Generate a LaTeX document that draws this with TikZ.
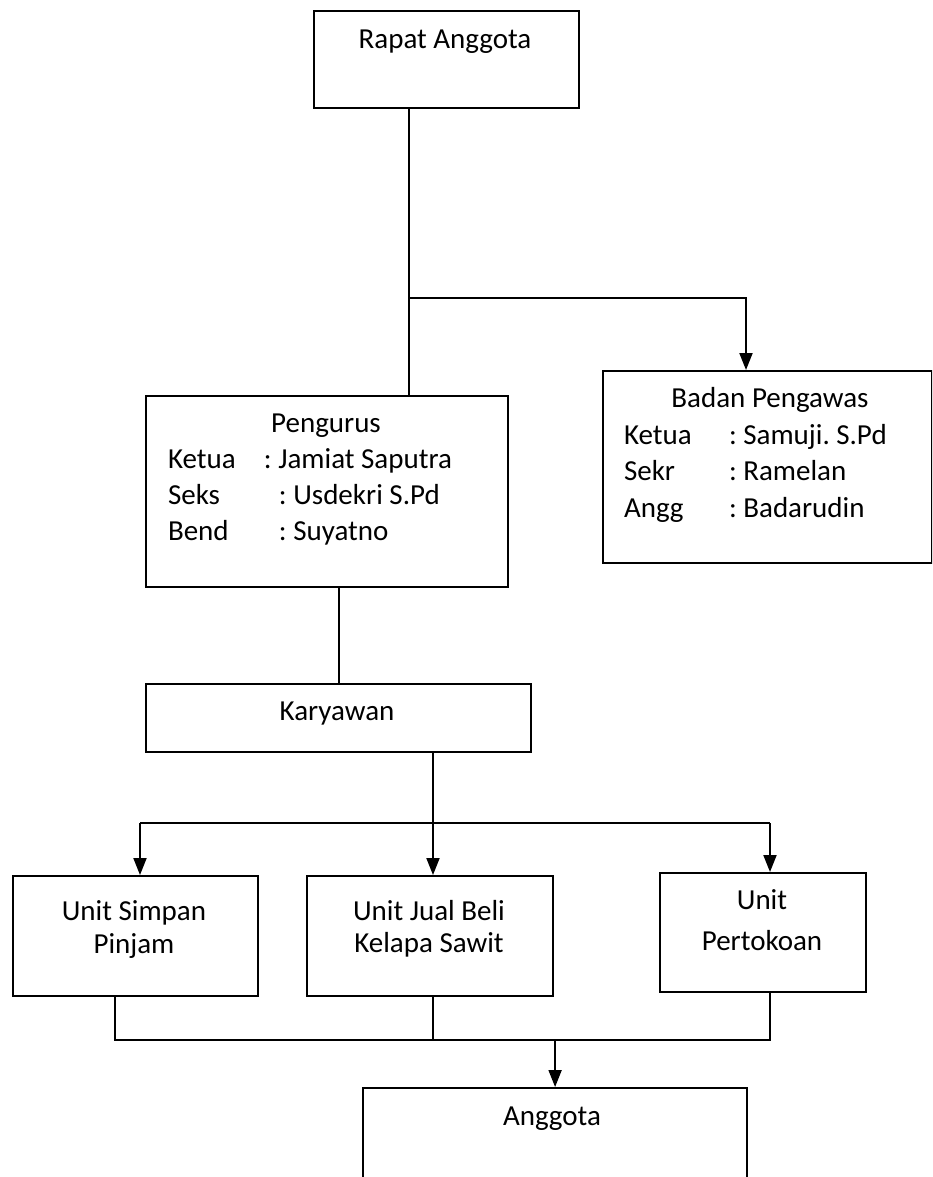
\documentclass[tikz,border=0pt]{standalone}
\usepackage{fontspec}
\setmainfont{Carlito}
\usetikzlibrary{arrows.meta}
\frenchspacing

\newcommand{\boxlines}[1]{\begin{tabular}[t]{@{}c@{}}#1\end{tabular}}
\newcommand{\boxlinesl}[1]{\begin{tabular}[t]{@{}l@{}}#1\end{tabular}}

\begin{document}
\begin{tikzpicture}[x=0.5pt, y=-0.5pt, line width=1pt,
	box/.style = {draw, line width=1.1pt, inner sep=0pt, anchor=north west},
	txt/.style = {inner sep=0pt, anchor=base, font=\fontsize{14.5}{18}\selectfont},
	arr/.style = {-{Triangle[length=8.5pt, width=6.5pt]}}]
	\clip (0,0) rectangle (932,1177);
	\node[box, minimum width=132.5pt, minimum height=48.5pt] (rapat) at (313,10) {};
	\node[box, minimum width=181pt, minimum height=95.5pt] (pengurus) at (145,395) {};
	\node[box, minimum width=164.5pt, minimum height=96pt] (badan) at (602,370) {};
	\node[box, minimum width=192.5pt, minimum height=34pt] (karyawan) at (145,683) {};
	\node[box, minimum width=122.5pt, minimum height=60pt] (simpan) at (12,875) {};
	\node[box, minimum width=123pt, minimum height=60pt] (jual) at (306,875) {};
	\node[box, minimum width=103pt, minimum height=59.5pt] (toko) at (659,872) {};
	\node[box, minimum width=192pt, minimum height=60pt] (anggota) at (362,1087) {};

	\node[txt] (rapat-t) at (445,49) {Rapat Anggota};
	\node[txt] (pengurus-t) at (326,432) {Pengurus};
	\node[txt, anchor=base west] (pengurus-l) at (167,468) {\boxlinesl{%
		\makebox[48pt][l]{Ketua}: Jamiat Saputra\\
		\makebox[55.5pt][l]{Seks}: Usdekri S.Pd\\
		\makebox[55.5pt][l]{Bend}: Suyatno}};
	\node[txt] (badan-t) at (770,407) {Badan Pengawas};
	\node[txt, anchor=base west, font=\fontsize{14.5}{18.3}\selectfont] (badan-l) at (623,444) {\boxlinesl{%
		\makebox[52.5pt][l]{Ketua}: Samuji. S.Pd\\
		\makebox[52.5pt][l]{Sekr}: Ramelan\\
		\makebox[52.5pt][l]{Angg}: Badarudin}};
	\node[txt] (karyawan-t) at (337,720) {Karyawan};
	\node[txt, font=\fontsize{14.5}{16.5}\selectfont] (simpan-t) at (134,920) {\boxlines{Unit Simpan\\Pinjam}};
	\node[txt, font=\fontsize{14.5}{16}\selectfont] (jual-t) at (429,920) {\boxlines{Unit Jual Beli\\Kelapa Sawit}};
	\node[txt, font=\fontsize{14.5}{20.5}\selectfont] (toko-t) at (762,909) {\boxlines{Unit\\Pertokoan}};
	\node[txt] (anggota-t) at (552,1125) {Anggota};

	\coordinate (top-split) at (409,298);
	\coordinate (badan-in) at (746,298);
	\coordinate (unit-split) at (433,823);
	\coordinate (simpan-in) at (140,823);
	\coordinate (toko-in) at (770,823);
	\coordinate (join-l) at (115,1040);
	\coordinate (join-r) at (770,1040);

	\draw (rapat.south -| top-split) -- (pengurus.north -| top-split);
	\draw[arr] (top-split) -- (badan-in) -- (badan.north -| badan-in);
	\draw (karyawan.north |- pengurus.south) -- (karyawan.north);
	\draw (karyawan.south -| unit-split) -- (unit-split);
	\draw (simpan-in) -- (toko-in);
	\draw[arr] (simpan-in) -- (simpan.north -| simpan-in);
	\draw[arr] (unit-split) -- (jual.north -| unit-split);
	\draw[arr] (toko-in) -- (toko.north -| toko-in);
	\draw (simpan.south -| join-l) -- (join-l) -- (join-r) -- (toko.south -| join-r);
	\draw (jual.south -| unit-split) -- (unit-split |- join-l);
	\draw[arr] (anggota.north |- join-l) -- (anggota.north);
\end{tikzpicture}
\end{document}
